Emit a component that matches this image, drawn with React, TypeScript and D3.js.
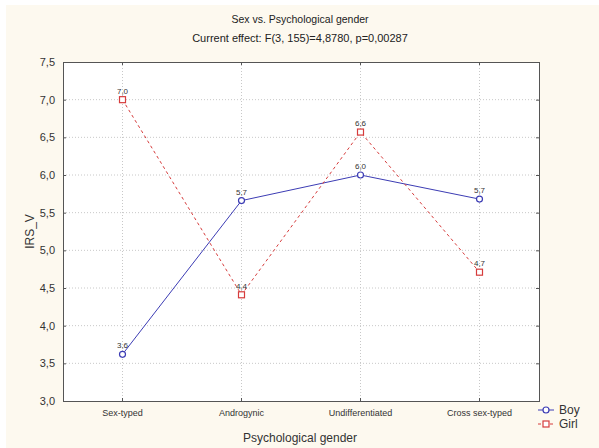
import React, { useEffect, useRef } from "react";
import * as d3 from "d3";

const categories = ["Sex-typed", "Androgynic", "Undifferentiated", "Cross sex-typed"];
const boyValues = [3.62, 5.66, 6.0, 5.68];
const girlValues = [7.0, 4.41, 6.57, 4.71];
const yTicks = [3.0, 3.5, 4.0, 4.5, 5.0, 5.5, 6.0, 6.5, 7.0, 7.5];
const seriesNames = ["Boy", "Girl"];

const fmt = (v: number) => v.toFixed(1).replace(".", ",");

export default function App() {
  const ref = useRef<SVGSVGElement | null>(null);

  useEffect(() => {
    document.body.style.margin = "0";
    const width = 599;
    const height = 448;
    const margin = { top: 62, right: 60, bottom: 47, left: 63 };
    const svg = d3.select(ref.current);
    svg.selectAll("*").remove();

    const font = "'Liberation Sans', Arial, sans-serif";

    // cream background
    svg.append("rect").attr("width", width).attr("height", height).attr("fill", "#fff");
    svg.append("rect").attr("x", 6).attr("y", 5).attr("width", width - 6).attr("height", height - 5).attr("fill", "#fdf9ef");

    const x = d3
      .scaleBand()
      .domain(categories)
      .range([margin.left, width - margin.right]);
    const y = d3
      .scaleLinear()
      .domain([3, 7.5])
      .range([height - margin.bottom, margin.top]);

    const cx = (c: string) => (x(c) as number) + x.bandwidth() / 2;

    svg
      .append("rect")
      .attr("x", margin.left)
      .attr("y", margin.top)
      .attr("width", width - margin.right - margin.left)
      .attr("height", height - margin.bottom - margin.top)
      .attr("fill", "#fff");

    // grid
    const grid = svg.append("g").attr("stroke", "#c8c8c8").attr("stroke-dasharray", "1,2").attr("stroke-width", 1);
    yTicks.slice(1, -1).forEach((t) => {
      grid.append("line").attr("x1", margin.left).attr("x2", width - margin.right).attr("y1", y(t)).attr("y2", y(t));
    });
    categories.forEach((c) => {
      grid.append("line").attr("x1", cx(c)).attr("x2", cx(c)).attr("y1", margin.top).attr("y2", height - margin.bottom);
    });

    // frame
    svg
      .append("rect")
      .attr("x", margin.left + 0.5)
      .attr("y", margin.top + 0.5)
      .attr("width", width - margin.right - margin.left)
      .attr("height", height - margin.bottom - margin.top)
      .attr("fill", "none")
      .attr("stroke", "#555")
      .attr("stroke-width", 1);

    // ticks inside frame
    const ticks = svg.append("g").attr("stroke", "#555");
    yTicks.forEach((t) => {
      ticks.append("line").attr("x1", margin.left).attr("x2", margin.left + 3).attr("y1", y(t) + 0.5).attr("y2", y(t) + 0.5);
      ticks.append("line").attr("x1", width - margin.right - 3).attr("x2", width - margin.right).attr("y1", y(t) + 0.5).attr("y2", y(t) + 0.5);
    });
    categories.forEach((c) => {
      ticks.append("line").attr("x1", cx(c)).attr("x2", cx(c)).attr("y1", margin.top).attr("y2", margin.top + 3);
      ticks.append("line").attr("x1", cx(c)).attr("x2", cx(c)).attr("y1", height - margin.bottom - 3).attr("y2", height - margin.bottom);
    });

    // y tick labels
    svg
      .append("g")
      .selectAll("text")
      .data(yTicks)
      .join("text")
      .attr("x", margin.left - 8)
      .attr("y", (d) => y(d) + 4)
      .attr("text-anchor", "end")
      .attr("font-family", font)
      .attr("font-size", 11)
      .attr("fill", "#333")
      .text((d) => fmt(d));

    // x tick labels
    svg
      .append("g")
      .selectAll("text")
      .data(categories)
      .join("text")
      .attr("x", (d) => cx(d))
      .attr("y", height - margin.bottom + 15)
      .attr("text-anchor", "middle")
      .attr("font-family", font)
      .attr("font-size", 9)
      .attr("fill", "#333")
      .text((d) => d);

    // titles
    svg.append("text").attr("x", 300).attr("y", 23).attr("text-anchor", "middle").attr("font-family", font).attr("font-size", 10.5).attr("fill", "#222").text("Sex vs. Psychological gender");
    svg.append("text").attr("x", 300).attr("y", 42).attr("text-anchor", "middle").attr("font-family", font).attr("font-size", 11).attr("fill", "#222").text("Current effect: F(3, 155)=4,8780, p=0,00287");
    svg.append("text").attr("x", 300).attr("y", 442).attr("text-anchor", "middle").attr("font-family", font).attr("font-size", 12).attr("fill", "#333").text("Psychological gender");
    svg
      .append("text")
      .attr("transform", `translate(34, ${(margin.top + height - margin.bottom) / 2}) rotate(-90)`)
      .attr("text-anchor", "middle")
      .attr("font-family", font)
      .attr("font-size", 12)
      .attr("fill", "#333")
      .text("IRS_V");

    const series = [
      { name: seriesNames[0], values: boyValues, color: "#3c3cb4", dash: null, shape: "circle" },
      { name: seriesNames[1], values: girlValues, color: "#d63c3c", dash: "3,3", shape: "square" },
    ];

    const line = d3
      .line<number>()
      .x((_, i) => cx(categories[i]))
      .y((d) => y(d));

    series.forEach((s) => {
      svg
        .append("path")
        .datum(s.values)
        .attr("fill", "none")
        .attr("stroke", s.color)
        .attr("stroke-width", 1)
        .attr("stroke-dasharray", s.dash)
        .attr("d", line);
    });

    const drawMarker = (g: any, shape: string, color: string, px: number, py: number) => {
      if (shape === "circle") {
        g.append("circle").attr("cx", px).attr("cy", py).attr("r", 3).attr("fill", "#fff").attr("stroke", color).attr("stroke-width", 1.2);
      } else {
        g.append("rect").attr("x", px - 3).attr("y", py - 3).attr("width", 6).attr("height", 6).attr("fill", "#fff").attr("stroke", color).attr("stroke-width", 1.2);
      }
    };

    series.forEach((s) => {
      const g = svg.append("g");
      s.values.forEach((v, i) => {
        drawMarker(g, s.shape, s.color, cx(categories[i]), y(v));
        g.append("text")
          .attr("x", cx(categories[i]))
          .attr("y", y(v) - 6)
          .attr("text-anchor", "middle")
          .attr("font-family", font)
          .attr("font-size", 8)
          .attr("fill", "#333")
          .text(fmt(v));
      });
    });

    // legend
    series.forEach((s, i) => {
      const ly = 410 + i * 14;
      const g = svg.append("g");
      g.append("line").attr("x1", 538).attr("x2", 554).attr("y1", ly).attr("y2", ly).attr("stroke", s.color).attr("stroke-dasharray", s.dash);
      drawMarker(g, s.shape, s.color, 546, ly);
      g.append("text").attr("x", 559).attr("y", ly + 4).attr("font-family", font).attr("font-size", 12).attr("fill", "#333").text(s.name);
    });
  }, []);

  return <svg ref={ref} width={599} height={448} style={{ display: "block" }} />;
}
